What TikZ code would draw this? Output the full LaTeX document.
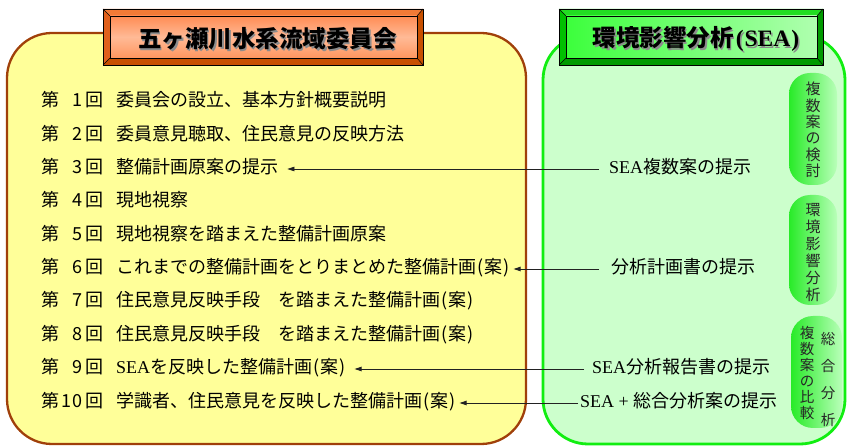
\documentclass[tikz,border=0pt]{standalone}
\usepackage{fontspec}
\newfontfamily\cjk{Noto Sans CJK JP}
\newfontfamily\ser{Liberation Serif}
\usetikzlibrary{arrows.meta,calc}
\definecolor{ybg}{HTML}{FFFF99}
\definecolor{ybd}{HTML}{A0400A}
\definecolor{gbg}{HTML}{CCFFCC}
\definecolor{gbd}{HTML}{11EE11}
\definecolor{otop}{HTML}{F27A36}
\definecolor{oside}{HTML}{E0601C}
\definecolor{obot}{HTML}{C85000}
\definecolor{gtop}{HTML}{22DD22}
\definecolor{gside}{HTML}{00C000}
\definecolor{gbot}{HTML}{009A00}
\definecolor{arrcol}{HTML}{222222}
\tikzset{
  rowtxt/.style={font=\cjk\fontsize{18}{20}\selectfont, inner sep=0pt, text height=13pt, text depth=3pt},
  seatxt/.style={font=\cjk\fontsize{18}{20}\selectfont, inner sep=0pt, text height=13pt, text depth=3pt, anchor=west},
  pilltxt/.style={font=\cjk\fontsize{15}{16.4}\selectfont, inner sep=0pt, align=center, text=black!85},
  conn/.style={draw=arrcol, line width=0.8pt, -{Triangle[length=7pt,width=4.5pt]}},
  titletxt/.style={font=\cjk\bfseries\fontsize{23.5}{26}\selectfont, inner sep=0pt},
  bevline/.style={draw=black, line width=0.8pt}
}
\newcommand\paren[1]{\kern1pt(\kern1pt#1\kern1pt)}
\begin{document}
\begin{tikzpicture}[x=1pt,y=-1pt]
\useasboundingbox (0,0) rectangle (847,446);
% main panels
\draw[ybd, line width=2.3pt, fill=ybg, rounded corners=45pt] (7,33) rectangle (526,444);
\draw[gbd, line width=2.8pt, fill=gbg, rounded corners=45pt] (543,35) rectangle (845,444);

% title 1 (orange bevel)
\fill[otop] (103,9) -- (423,9) -- (417,16) -- (110,16) -- cycle;
\fill[oside] (103,9) -- (110,16) -- (110,58) -- (103,65) -- cycle;
\fill[obot] (423,9) -- (423,65) -- (417,58) -- (417,16) -- cycle;
\fill[obot] (103,65) -- (110,58) -- (417,58) -- (423,65) -- cycle;
\shade[top color={rgb,255:red,255;green,140;blue,84}, bottom color={rgb,255:red,255;green,150;blue,95}, middle color={rgb,255:red,255;green,186;blue,150}] (110,16) rectangle (417,58);
\draw[bevline] (103,9) rectangle (423,65);
\draw[bevline] (110,16) rectangle (417,58);
\draw[black, line width=0.5pt] (103,9) -- (110,16) (423,9) -- (417,16) (103,65) -- (110,58) (423,65) -- (417,58);
\node[titletxt, text=black!45] at (269,40.5) {五ヶ瀬川水系流域委員会};
\node[titletxt] (t1) at (267.5,39) {五ヶ瀬川水系流域委員会};

% title 2 (green bevel)
\fill[gtop] (559,9) -- (823,9) -- (817,16) -- (566,16) -- cycle;
\fill[gside] (559,9) -- (566,16) -- (566,58) -- (559,65) -- cycle;
\fill[gbot] (823,9) -- (823,65) -- (817,58) -- (817,16) -- cycle;
\fill[gbot] (559,65) -- (566,58) -- (817,58) -- (823,65) -- cycle;
\shade[left color={rgb,255:red,60;green,255;blue,60}, right color={rgb,255:red,175;green,255;blue,175}] (566,16) rectangle (817,58);
\draw[bevline] (559,9) rectangle (823,65);
\draw[bevline] (566,16) rectangle (817,58);
\draw[black, line width=0.5pt] (559,9) -- (566,16) (823,9) -- (817,16) (559,65) -- (566,58) (823,65) -- (817,58);
\node[titletxt, text=black!45] at (697.5,40.5) {環境影響分析{\ser\bfseries\kern2pt(\kern1pt SEA\kern1pt)}};
\node[titletxt] (t2) at (696,39) {環境影響分析{\ser\bfseries\kern2pt(\kern1pt SEA\kern1pt)}};

% pills
\shade[left color={rgb,255:red,40;green,235;blue,40}, right color={rgb,255:red,185;green,255;blue,185}, rounded corners=21pt] (789,73) rectangle (837,185);
\shade[left color={rgb,255:red,40;green,235;blue,40}, right color={rgb,255:red,185;green,255;blue,185}, rounded corners=21pt] (789,195) rectangle (837,305);
\shade[left color={rgb,255:red,40;green,235;blue,40}, right color={rgb,255:red,185;green,255;blue,185}, rounded corners=22pt] (791,316) rectangle (842,428);
\node[pilltxt] (p1) at (813,130) {複\\数\\案\\の\\検\\討};
\node[pilltxt, font=\cjk\fontsize{15}{17}\selectfont] (p2) at (813,253) {環\\境\\影\\響\\分\\析};
\node[pilltxt, font=\cjk\fontsize{14.5}{16}\selectfont] (p3a) at (807,373) {複\\数\\案\\の\\比\\較};
\node[pilltxt, font=\cjk\fontsize{14.5}{27}\selectfont] (p3b) at (828,379) {総\\合\\分\\析};

% rows
\foreach \i/\y/\n/\c in {
  1/102/1/{委員会の設立、基本方針概要説明},
  2/135.5/2/{委員意見聴取、住民意見の反映方法},
  3/169/3/{整備計画原案の提示},
  4/202/4/{現地視察},
  5/236/5/{現地視察を踏まえた整備計画原案},
  6/269/6/{これまでの整備計画をとりまとめた整備計画\paren{案}},
  7/302/7/{住民意見反映手段　を踏まえた整備計画\paren{案}},
  8/336/8/{住民意見反映手段　を踏まえた整備計画\paren{案}},
  9/369/9/{{\ser SEA}を反映した整備計画\paren{案}},
  10/403/1\kern1.5pt0/{学識者、住民意見を反映した整備計画\paren{案}}}{
  \node[rowtxt, anchor=west] (d\i) at (41,\y) {第};
  \node[rowtxt, anchor=east] (n\i) at (83,\y) {\n};
  \node[rowtxt, anchor=west] (k\i) at (85,\y) {回};
  \node[rowtxt, anchor=west] (r\i) at (116,\y) {\c};
}

% SEA side texts
\node[seatxt] (s1) at (609,169) {{\ser SEA}複数案の提示};
\node[seatxt] (s2) at (611,269) {分析計画書の提示};
\node[seatxt] (s3) at (592,369) {{\ser SEA}分析報告書の提示};
\node[seatxt] (s4) at (580,403) {{\ser SEA + }総合分析案の提示};

% connectors
\draw[conn, shorten <=10pt, shorten >=9pt] (s1.west) -- (s1.west -| r3.east);
\draw[conn, shorten <=12pt, shorten >=4pt] (s2.west) -- (s2.west -| r6.east);
\draw[conn, shorten <=8pt, shorten >=9pt] (s3.west) -- (s3.west -| r9.east);
\draw[conn, shorten <=2pt, shorten >=4pt] (s4.west) -- (s4.west -| r10.east);
\end{tikzpicture}
\end{document}
